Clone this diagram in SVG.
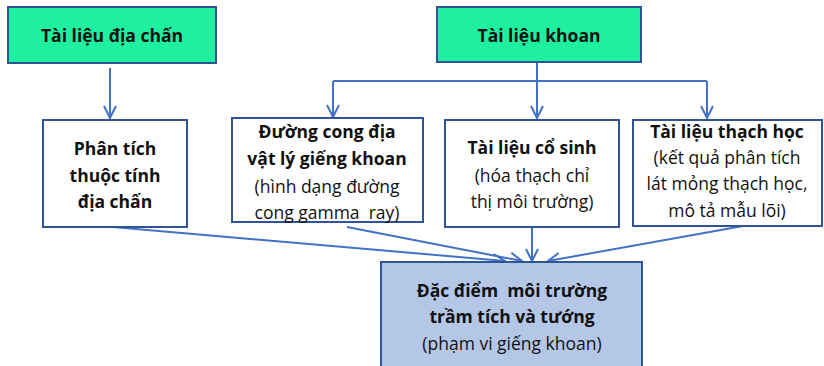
<svg xmlns="http://www.w3.org/2000/svg" width="824" height="366" viewBox="0 0 824 366">
<defs>
<style>
.box{stroke:#2F5597;stroke-width:2}
.green{fill:#1EF0A0}
.white{fill:#fff}
.blue{fill:#B4C7E7}
text{font-family:"Open Sans","Noto Sans",sans-serif;fill:#111;text-anchor:middle}
.b{font-weight:bold;font-size:17.5px}
.n{font-size:17.5px}
.c{stroke:#4472C4;stroke-width:2;fill:none}
</style>
<marker id="ah" viewBox="0 0 14 14" refX="13" refY="7" markerWidth="14" markerHeight="14" markerUnits="userSpaceOnUse" orient="auto">
<path d="M1,1 L13,7 L1,13" fill="none" stroke="#4472C4" stroke-width="2"/>
</marker>
</defs>
<rect width="824" height="366" fill="#fff"/>
<g id="connectors">
<path class="c" d="M110,68 V118" marker-end="url(#ah)"/>
<path class="c" d="M537,62 V81"/>
<path class="c" d="M333,81 H707"/>
<path class="c" d="M333,81 V117" marker-end="url(#ah)"/>
<path class="c" d="M537,81 V118" marker-end="url(#ah)"/>
<path class="c" d="M707,81 V118" marker-end="url(#ah)"/>
<path class="c" d="M113,227 L505,261" marker-end="url(#ah)"/>
<path class="c" d="M347,227 L522,261" marker-end="url(#ah)"/>
<path class="c" d="M532,227 V261" marker-end="url(#ah)"/>
<path class="c" d="M743,226 L548,261" marker-end="url(#ah)"/>
</g>
<g id="n1"><rect class="box green" x="8" y="7" width="208" height="56"/>
<text class="b" x="112" y="42">Tài liệu địa chấn</text></g>
<g id="n2"><rect class="box green" x="437" y="7" width="204" height="55"/>
<text class="b" x="539" y="42">Tài liệu khoan</text></g>
<g id="n3"><rect class="box white" x="43" y="120" width="144" height="107"/>
<text class="b" x="115" y="155">Phân tích</text>
<text class="b" x="115" y="182">thuộc tính</text>
<text class="b" x="115" y="208">địa chấn</text></g>
<g id="n4"><rect class="box white" x="232" y="118" width="191" height="104"/>
<text class="b" x="327" y="138">Đường cong địa</text>
<text class="b" x="327" y="165">vật lý giếng khoan</text>
<text class="n" x="327" y="193">(hình dạng đường</text>
<text class="n" x="327" y="219">cong gamma&#160; ray)</text></g>
<g id="n5"><rect class="box white" x="445" y="120" width="174" height="107"/>
<text class="b" x="532" y="154">Tài liệu cổ sinh</text>
<text class="n" x="532" y="182">(hóa thạch chỉ</text>
<text class="n" x="532" y="208">thị môi trường)</text></g>
<g id="n6"><rect class="box white" x="633" y="120" width="189" height="106"/>
<text class="b" x="727" y="138">Tài liệu thạch học</text>
<text class="n" x="727" y="164">(kết quả phân tích</text>
<text class="n" x="727" y="190">lát mỏng thạch học,</text>
<text class="n" x="727" y="217">mô tả mẫu lõi)</text></g>
<g id="n7"><rect class="box blue" x="381" y="262" width="261" height="110"/>
<text class="b" x="512" y="297">Đặc điểm&#160; môi trường</text>
<text class="b" x="512" y="323">trầm tích và tướng</text>
<text class="n" x="512" y="350">(phạm vi giếng khoan)</text></g>
</svg>
